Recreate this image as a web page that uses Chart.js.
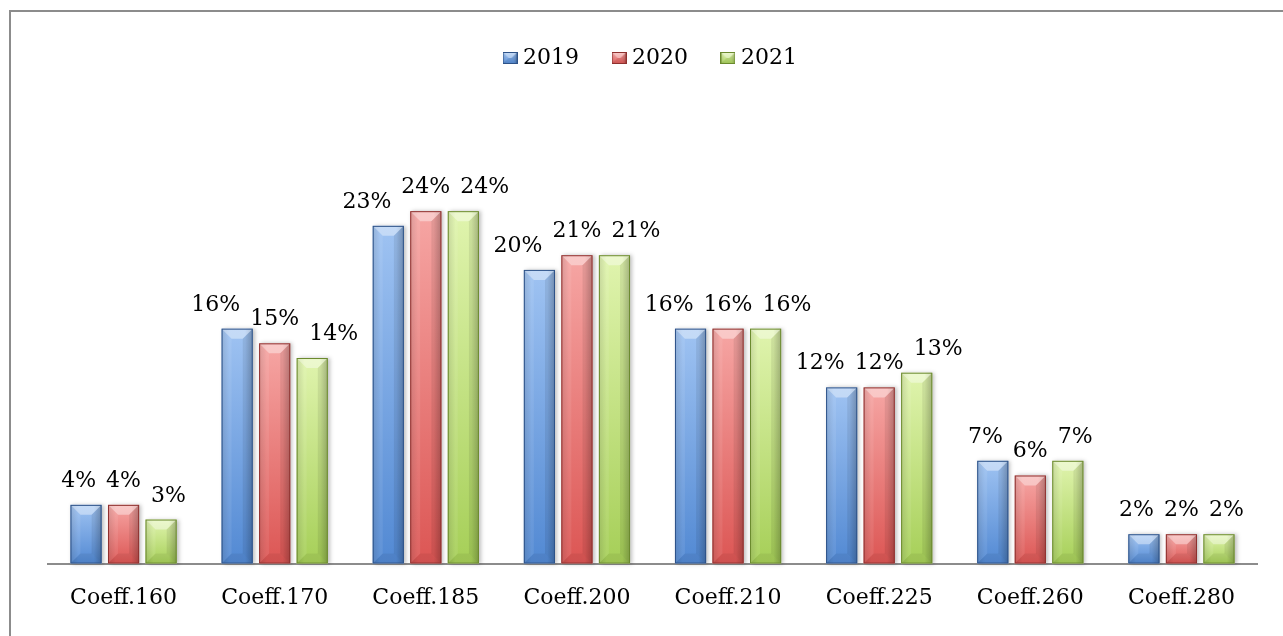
<!DOCTYPE html>
<html>
<head>
<meta charset="utf-8">
<script src="https://cdn.jsdelivr.net/npm/chart.js@4.4.1/dist/chart.umd.min.js"></script>
<style>
html, body { margin: 0; padding: 0; background: #fff; overflow: hidden; }
#wrap { position: relative; width: 1283px; height: 636px; }
#frame { position: absolute; left: 9px; top: 10px; width: 1400px; height: 800px;
         border-top: 2px solid #8c8c8c; border-left: 2px solid #8c8c8c; }
canvas { position: absolute; left: 0; top: 0; }
</style>
</head>
<body>
<div id="wrap">
  <div id="frame"></div>
  <canvas id="chart" width="1283" height="636"></canvas>
</div>
<script>
const categories = ['Coeff.160', 'Coeff.170', 'Coeff.185', 'Coeff.200', 'Coeff.210', 'Coeff.225', 'Coeff.260', 'Coeff.280'];
const years = ['2019', '2020', '2021'];
const values2019 = [4, 16, 23, 20, 16, 12, 7, 2];
const values2020 = [4, 15, 24, 21, 16, 12, 6, 2];
const values2021 = [3, 14, 24, 21, 16, 13, 7, 2];
const series = [values2019, values2020, values2021];

const FONT = "'DejaVu Serif', serif";
const palette = [
    { base: '#5289d3', light: '#9fc3f2', edge: '#2d5288' },
    { base: '#dc5654', light: '#f6a6a4', edge: '#8e302e' },
    { base: '#a6cf58', light: '#e0f4ae', edge: '#6b8a2e' }
];

function poly(ctx, pts) {
    ctx.beginPath();
    ctx.moveTo(pts[0][0], pts[0][1]);
    for (let k = 1; k < pts.length; k++) ctx.lineTo(pts[k][0], pts[k][1]);
    ctx.closePath();
}

// bevel shading on top of the flat bar fill
function drawBevel(ctx, l, t, w, h, p) {
    const b = Math.min(10, w / 2, h / 2);
    const r = l + w, btm = t + h;
    ctx.save();
    const hg = ctx.createLinearGradient(l, 0, r, 0);
    hg.addColorStop(0, 'rgba(0,0,0,0.12)');
    hg.addColorStop(0.25, 'rgba(0,0,0,0)');
    hg.addColorStop(0.75, 'rgba(0,0,0,0)');
    hg.addColorStop(1, 'rgba(0,0,0,0.2)');
    ctx.fillStyle = hg;
    ctx.fillRect(l, t, w, h);
    poly(ctx, [[l, t], [r, t], [r - b, t + b], [l + b, t + b]]);
    ctx.fillStyle = 'rgba(255,255,255,0.4)';
    ctx.fill();
    poly(ctx, [[l, t], [l + b, t + b], [l + b, btm - b], [l, btm]]);
    ctx.fillStyle = 'rgba(255,255,255,0.08)';
    ctx.fill();
    poly(ctx, [[r, t], [r - b, t + b], [r - b, btm - b], [r, btm]]);
    ctx.fillStyle = 'rgba(0,0,0,0.08)';
    ctx.fill();
    poly(ctx, [[l, btm], [l + b, btm - b], [r - b, btm - b], [r, btm]]);
    ctx.fillStyle = 'rgba(0,0,0,0.06)';
    ctx.fill();
    ctx.strokeStyle = p.edge;
    ctx.lineWidth = 1;
    ctx.strokeRect(l + 0.5, t + 0.5, w - 1, h - 1);
    ctx.restore();
}

function legendIcon(i) {
    const c = document.createElement('canvas');
    c.width = 15; c.height = 12;
    const g = c.getContext('2d');
    const grad = g.createLinearGradient(0, 0, 0, 12);
    grad.addColorStop(0, palette[i].light);
    grad.addColorStop(1, palette[i].base);
    g.fillStyle = grad;
    g.fillRect(0, 0, 15, 12);
    drawBevel(g, 0, 0, 15, 12, palette[i]);
    return c;
}

function barFill(context, i) {
    const chart = context.chart;
    const p = palette[i];
    const area = chart.chartArea;
    if (!area || context.type !== 'data' || !chart.scales.y) return p.base;
    const yTop = chart.scales.y.getPixelForValue(context.raw);
    const g = chart.ctx.createLinearGradient(0, yTop, 0, area.bottom);
    g.addColorStop(0, p.light);
    g.addColorStop(1, p.base);
    return g;
}

const bevelPlugin = {
    id: 'bevel',
    beforeDatasetsDraw(chart) {
        // soft shadow to the right of each bar
        const ctx = chart.ctx;
        ctx.save();
        ctx.shadowColor = 'rgba(0,0,0,0.25)';
        ctx.shadowBlur = 4;
        ctx.shadowOffsetX = 2;
        ctx.shadowOffsetY = 0;
        ctx.fillStyle = '#fff';
        chart.data.datasets.forEach((ds, di) => {
            chart.getDatasetMeta(di).data.forEach(bar => {
                const { x, y, base, width } = bar.getProps(['x', 'y', 'base', 'width'], true);
                ctx.fillRect(x - width / 2, y, width, base - y);
            });
        });
        ctx.restore();
    },
    afterDatasetsDraw(chart) {
        const ctx = chart.ctx;
        chart.data.datasets.forEach((ds, di) => {
            chart.getDatasetMeta(di).data.forEach(bar => {
                const { x, y, base, width } = bar.getProps(['x', 'y', 'base', 'width'], true);
                drawBevel(ctx, x - width / 2, y, width, base - y, palette[di]);
            });
        });
    }
};

const labelPlugin = {
    id: 'valueLabels',
    afterDatasetsDraw(chart) {
        const ctx = chart.ctx;
        const gap = 10;
        ctx.save();
        ctx.font = '22px ' + FONT;
        ctx.fillStyle = '#000';
        ctx.textAlign = 'center';
        ctx.textBaseline = 'alphabetic';
        chart.data.labels.forEach((lab, i) => {
            const items = chart.data.datasets.map((ds, di) => {
                const bar = chart.getDatasetMeta(di).data[i];
                const text = ds.data[i] + '%';
                return { x: bar.x, y: bar.y - 18, w: ctx.measureText(text).width, text: text };
            });
            const left = items[0], mid = items[1], right = items[2];
            const limL = mid.x - mid.w / 2 - gap;
            if (left.x + left.w / 2 > limL) left.x = limL - left.w / 2;
            const limR = mid.x + mid.w / 2 + gap;
            if (right.x - right.w / 2 < limR) right.x = limR + right.w / 2;
            items.forEach(it => ctx.fillText(it.text, it.x, it.y));
        });
        ctx.restore();
    }
};

const ctx = document.getElementById('chart').getContext('2d');
new Chart(ctx, {
    type: 'bar',
    data: {
        labels: categories,
        datasets: years.map((y, i) => ({
            label: y,
            data: series[i],
            backgroundColor: c => barFill(c, i),
            borderWidth: 0,
            categoryPercentage: 0.745,
            barPercentage: 0.83
        }))
    },
    options: {
        responsive: false,
        animation: false,
        layout: { padding: { left: 48, right: 26, top: 9, bottom: 4 } },
        plugins: {
            legend: {
                labels: {
                    usePointStyle: true,
                    pointStyleWidth: 4,
                    padding: 38,
                    color: '#000',
                    font: { family: FONT, size: 22 },
                    generateLabels: chart => chart.data.datasets.map((ds, i) => ({
                        text: ds.label,
                        pointStyle: legendIcon(i),
                        datasetIndex: i,
                        fillStyle: palette[i].base,
                        strokeStyle: palette[i].edge,
                        lineWidth: 0,
                        hidden: false
                    }))
                }
            },
            tooltip: { enabled: false }
        },
        scales: {
            x: {
                grid: { display: false, drawTicks: false },
                border: { color: '#8c8c8c', width: 2 },
                ticks: { color: '#000', font: { family: FONT, size: 22 }, padding: 21 }
            },
            y: { display: false, min: 0, max: 33 }
        }
    },
    plugins: [bevelPlugin, labelPlugin]
});
</script>
</body>
</html>
